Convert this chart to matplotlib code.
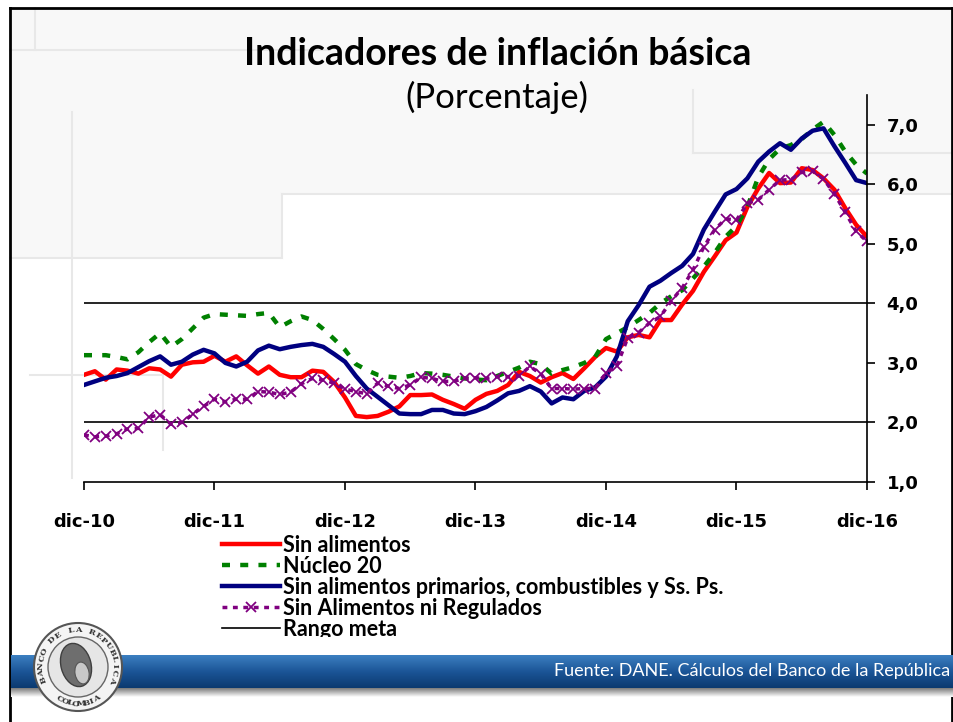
import numpy as np
import matplotlib
matplotlib.use('Agg')
import matplotlib.pyplot as plt
from matplotlib.patches import Circle, Ellipse, Polygon
from matplotlib.colors import LinearSegmentedColormap

# datos mensuales dic-10 ... dic-16 (73 meses)
sin_alimentos = [2.80, 2.86, 2.72, 2.89, 2.87, 2.82, 2.91, 2.89, 2.77, 2.97, 3.01, 3.02, 3.12,
                 3.02, 3.11, 2.96, 2.82, 2.94, 2.80, 2.76, 2.76, 2.87, 2.85, 2.68, 2.42,
                 2.11, 2.09, 2.11, 2.18, 2.27, 2.46, 2.46, 2.47, 2.38, 2.31, 2.23, 2.38,
                 2.48, 2.53, 2.63, 2.85, 2.78, 2.67, 2.76, 2.83, 2.73, 2.91, 3.10, 3.25,
                 3.19, 3.43, 3.47, 3.43, 3.72, 3.72, 3.98, 4.21, 4.53, 4.79, 5.06, 5.19,
                 5.62, 5.93, 6.19, 6.02, 6.03, 6.27, 6.24, 6.10, 5.91, 5.60, 5.32, 5.12]
nucleo_20 = [3.13, 3.13, 3.13, 3.10, 3.06, 3.18, 3.35, 3.50, 3.27, 3.40, 3.58, 3.76, 3.82,
             3.81, 3.80, 3.79, 3.82, 3.84, 3.60, 3.70, 3.78, 3.72, 3.57, 3.40, 3.22,
             2.98, 2.88, 2.80, 2.77, 2.75, 2.78, 2.83, 2.82, 2.80, 2.77, 2.74, 2.72,
             2.71, 2.78, 2.85, 2.92, 3.02, 2.98, 2.82, 2.88, 2.93, 3.00, 3.10, 3.40,
             3.50, 3.60, 3.72, 3.84, 4.00, 4.12, 4.22, 4.42, 4.62, 4.85, 5.12, 5.30,
             5.62, 6.12, 6.42, 6.60, 6.66, 6.76, 6.92, 7.05, 6.83, 6.55, 6.33, 6.18]
sin_prim_comb_ssps = [2.63, 2.69, 2.75, 2.78, 2.83, 2.93, 3.03, 3.11, 2.97, 3.02, 3.14, 3.22, 3.16,
                      3.00, 2.94, 3.02, 3.21, 3.29, 3.23, 3.27, 3.30, 3.32, 3.27, 3.15, 3.02,
                      2.78, 2.57, 2.43, 2.29, 2.15, 2.14, 2.14, 2.21, 2.21, 2.15, 2.14, 2.19,
                      2.26, 2.37, 2.49, 2.53, 2.61, 2.52, 2.32, 2.42, 2.39, 2.53, 2.59, 2.77,
                      3.11, 3.70, 3.97, 4.28, 4.38, 4.51, 4.63, 4.83, 5.24, 5.54, 5.83, 5.92,
                      6.10, 6.38, 6.55, 6.69, 6.58, 6.77, 6.90, 6.94, 6.64, 6.36, 6.07, 6.02]
sin_alim_ni_reg = [1.79, 1.76, 1.77, 1.81, 1.89, 1.90, 2.09, 2.13, 1.97, 2.00, 2.14, 2.27, 2.39,
                   2.35, 2.39, 2.39, 2.52, 2.51, 2.47, 2.51, 2.65, 2.74, 2.71, 2.66, 2.56,
                   2.52, 2.48, 2.66, 2.61, 2.57, 2.63, 2.76, 2.74, 2.69, 2.69, 2.74, 2.75,
                   2.74, 2.77, 2.77, 2.78, 2.94, 2.82, 2.57, 2.57, 2.56, 2.57, 2.57, 2.83,
                   2.95, 3.42, 3.51, 3.67, 3.78, 4.04, 4.26, 4.56, 4.95, 5.24, 5.42, 5.40,
                   5.68, 5.74, 5.91, 6.07, 6.08, 6.20, 6.22, 6.09, 5.84, 5.53, 5.21, 5.04]
rango_meta = [2.0, 4.0]
etiquetas_x = ['dic-10', 'dic-11', 'dic-12', 'dic-13', 'dic-14', 'dic-15', 'dic-16']

meses = np.arange(len(sin_alimentos))

fig = plt.figure(figsize=(9.54, 7.22), dpi=100)
fig.patch.set_facecolor('white')

# fondo de la diapositiva (en pixeles)
bg = fig.add_axes([0, 0, 1, 1], zorder=0)
bg.set_xlim(0, 954)
bg.set_ylim(722, 0)
bg.axis('off')
bg.add_patch(Polygon([[10, 8], [954, 8], [954, 194], [282, 194], [282, 258], [10, 258]],
                     closed=True, facecolor='#F8F8F8', edgecolor='none'))
gris = '#E8E8E8'
for xs, ys in [([10, 282], [258, 258]), ([282, 282], [194, 258]), ([282, 954], [194, 194]),
               ([693, 693], [90, 153]), ([693, 954], [153, 153]), ([72, 72], [112, 478]),
               ([30, 163], [375, 375]), ([163, 163], [375, 450]), ([10, 330], [50, 50]),
               ([35, 35], [8, 50])]:
    bg.plot(xs, ys, color=gris, lw=1.5)
bg.plot([10, 954], [8, 8], color='black', lw=2)
bg.plot([10, 10], [8, 722], color='black', lw=2)
bg.plot([952, 952], [8, 722], color='black', lw=2)

bg.text(498, 54, 'Indicadores de inflación básica', fontsize=27, fontweight='bold',
        family='Lato', ha='center', va='center')
bg.text(497, 97, '(Porcentaje)', fontsize=25, family='Lato', ha='center', va='center')

# grafico
ax = fig.add_axes([84 / 954, 1 - 482 / 722, (867 - 84) / 954, (482 - 95) / 722], zorder=2)
ax.patch.set_alpha(0)

l1, = ax.plot(meses, sin_alimentos, color='#FF0000', lw=3.2, label='Sin alimentos')
l2, = ax.plot(meses, nucleo_20, color='#008000', lw=3.2, ls=(0, (1.8, 2.3)), label='Núcleo 20')
l3, = ax.plot(meses, sin_prim_comb_ssps, color='#000080', lw=3.2,
              label='Sin alimentos primarios, combustibles y Ss. Ps.')
l4, = ax.plot(meses, sin_alim_ni_reg, color='#800080', lw=2.5, ls=(0, (1.4, 1.6)),
              marker='x', ms=7, mew=1.3, label='Sin Alimentos ni Regulados')
for v in rango_meta:
    l5, = ax.plot([meses[0], meses[-1]], [v, v], color='black', lw=1.2, zorder=1,
                  label='Rango meta')

ax.set_xlim(0, 72)
ax.set_ylim(1, 7.5)
ax.set_xticks(meses[::12])
ax.set_xticklabels(etiquetas_x)
yt = np.arange(1, 8)
ax.set_yticks(yt)
ax.set_yticklabels([('%.1f' % v).replace('.', ',') for v in yt])
ax.yaxis.tick_right()
for s in ['top', 'left']:
    ax.spines[s].set_visible(False)
ax.spines['bottom'].set_linewidth(1.2)
ax.spines['right'].set_linewidth(1.2)
ax.tick_params(axis='x', direction='out', length=6, width=1.2, pad=16, labelsize=13)
ax.tick_params(axis='y', direction='out', length=6, width=1.2, pad=8, labelsize=13)
for t in ax.get_xticklabels() + ax.get_yticklabels():
    t.set_fontweight('bold')
    t.set_family('DejaVu Sans')

leg = ax.legend(handles=[l1, l2, l3, l4, l5], loc='upper left',
                bbox_to_anchor=(222 / 954, 1 - 535 / 722), bbox_transform=fig.transFigure,
                frameon=False, handlelength=2.7, handletextpad=0.14, labelspacing=0.0,
                borderpad=0, borderaxespad=0,
                prop={'family': 'Lato', 'weight': 'bold', 'size': 15.5})

# pie de pagina
top = fig.add_axes([0, 0, 1, 1], zorder=5)
top.axis('off')
top.add_patch(Polygon([[12, 637], [760, 637], [760, 655], [12, 655]], closed=True,
                      facecolor='white', edgecolor='none'))
azul = LinearSegmentedColormap.from_list('azul', ['#3C7FC0', '#1B5597', '#0B3A70'])
grad = np.linspace(0, 1, 50).reshape(-1, 1)
top.imshow(grad, cmap=azul, aspect='auto', extent=(11, 954, 688, 655))
sombra = LinearSegmentedColormap.from_list('sombra', ['#7A7A7A', '#FFFFFF'])
top.imshow(grad, cmap=sombra, aspect='auto', extent=(11, 954, 697, 688))
top.set_xlim(0, 954)
top.set_ylim(722, 0)
top.text(950, 671, 'Fuente: DANE. Cálculos del Banco de la República', color='white',
         fontsize=13, family='Lato', ha='right', va='center')

# logo
cx, cy = 78, 667
top.add_patch(Circle((cx, cy), 44, facecolor='#F4F4F4', edgecolor='#555555', lw=1.5))
top.add_patch(Circle((cx, cy), 30, facecolor='#E6E6E6', edgecolor='#666666', lw=1))
top.add_patch(Ellipse((cx - 2, cy - 2), 30, 44, angle=-15, facecolor='#6E6E6E',
                      edgecolor='#3F3F3F', lw=1))
top.add_patch(Ellipse((cx + 4, cy + 6), 14, 22, angle=-10, facecolor='#C8C8C8',
                      edgecolor='#555555', lw=0.8))
texto = 'BANCO DE LA REPUBLICA'
for i, ch in enumerate(texto):
    a = np.deg2rad(200 - i * 220 / (len(texto) - 1))
    top.text(cx + 37 * np.cos(a), cy - 37 * np.sin(a), ch, fontsize=6, family='DejaVu Serif',
             fontweight='bold', rotation=np.rad2deg(a) - 90, ha='center', va='center',
             color='#333333')
texto = 'COLOMBIA'
for i, ch in enumerate(texto):
    a = np.deg2rad(240 + i * 60 / (len(texto) - 1))
    top.text(cx + 37 * np.cos(a), cy - 37 * np.sin(a), ch, fontsize=6, family='DejaVu Serif',
             fontweight='bold', rotation=np.rad2deg(a) + 90, ha='center', va='center',
             color='#333333')

plt.savefig('out.png', dpi=100)
